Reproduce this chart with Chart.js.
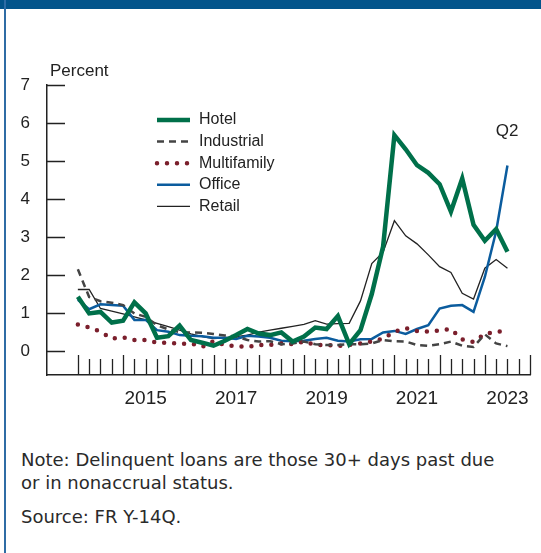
<!DOCTYPE html>
<html>
<head>
<meta charset="utf-8">
<script src="https://cdn.jsdelivr.net/npm/chart.js@4.4.1/dist/chart.umd.min.js"></script>
<style>
  body { margin: 0; background: #fff; width: 541px; height: 553px; overflow: hidden; position: relative; }
  #band { position: absolute; left: 0; top: 0; width: 541px; height: 9px; background: #03548b; }
  #edge { position: absolute; left: 4px; top: 0; width: 2px; height: 553px; background: #2f6ca5; }
  #wrap { position: absolute; left: 0; top: 0; width: 541px; height: 430px; }
  #note { position: absolute; left: 21px; top: 448px; font: 18px "DejaVu Sans", sans-serif; line-height: 23px; color: #2a2a2a; }
  #note p { margin: 0; }
  #note p.src { margin-top: 11px; }
</style>
</head>
<body>
<div id="band"></div>
<div id="edge"></div>
<div id="wrap"><canvas id="chart" width="541" height="430"></canvas></div>
<div id="note">
  <p>Note: Delinquent loans are those 30+ days past due<br>or in nonaccrual status.</p>
  <p class="src">Source: FR Y-14Q.</p>
</div>
<script>
const quarters = [
  '2013Q4',
  '2014Q1', '2014Q2', '2014Q3', '2014Q4',
  '2015Q1', '2015Q2', '2015Q3', '2015Q4',
  '2016Q1', '2016Q2', '2016Q3', '2016Q4',
  '2017Q1', '2017Q2', '2017Q3', '2017Q4',
  '2018Q1', '2018Q2', '2018Q3', '2018Q4',
  '2019Q1', '2019Q2', '2019Q3', '2019Q4',
  '2020Q1', '2020Q2', '2020Q3', '2020Q4',
  '2021Q1', '2021Q2', '2021Q3', '2021Q4',
  '2022Q1', '2022Q2', '2022Q3', '2022Q4',
  '2023Q1', '2023Q2'
];
const yearLabels = ['2015', '2017', '2019', '2021', '2023'];
const yTicks = [0, 1, 2, 3, 4, 5, 6, 7];

const hotel = [1.43, 0.99, 1.03, 0.75, 0.80, 1.28, 0.99, 0.35, 0.39, 0.67, 0.29, 0.22, 0.14, 0.27, 0.42, 0.58, 0.46, 0.42, 0.49, 0.25,
  0.38, 0.62, 0.58, 0.92, 0.18, 0.55, 1.50, 2.75, 5.68, 5.31, 4.89, 4.69, 4.39, 3.67, 4.54, 3.32, 2.90, 3.21, 2.61];
const industrial = [2.15, 1.42, 1.31, 1.27, 1.21, 0.99, 0.90, 0.68, 0.57, 0.50, 0.49, 0.48, 0.45, 0.41, 0.38, 0.29, 0.25, 0.26, 0.18, 0.20,
  0.25, 0.18, 0.16, 0.16, 0.18, 0.18, 0.20, 0.29, 0.26, 0.25, 0.16, 0.14, 0.18, 0.25, 0.14, 0.11, 0.44, 0.20, 0.13];
const multifamily = [0.70, 0.62, 0.51, 0.33, 0.36, 0.29, 0.29, 0.22, 0.22, 0.19, 0.20, 0.11, 0.26, 0.16, 0.13, 0.11, 0.16, 0.16, 0.20, 0.18,
  0.25, 0.16, 0.16, 0.13, 0.16, 0.20, 0.25, 0.33, 0.51, 0.60, 0.53, 0.51, 0.54, 0.58, 0.31, 0.24, 0.45, 0.50, 0.55];
const office = [1.35, 1.10, 1.23, 1.21, 1.19, 0.82, 0.82, 0.55, 0.51, 0.42, 0.40, 0.39, 0.35, 0.35, 0.32, 0.40, 0.38, 0.35, 0.27, 0.26,
  0.27, 0.32, 0.35, 0.27, 0.25, 0.31, 0.32, 0.49, 0.53, 0.45, 0.58, 0.68, 1.12, 1.19, 1.21, 1.03, 1.95, 3.15, 4.88];
const retail = [1.62, 1.62, 1.12, 1.05, 0.98, 0.90, 0.82, 0.73, 0.64, 0.55, 0.45, 0.38, 0.33, 0.35, 0.38, 0.42, 0.50, 0.55, 0.60, 0.65,
  0.70, 0.80, 0.71, 0.72, 0.73, 1.32, 2.30, 2.60, 3.43, 3.03, 2.82, 2.53, 2.22, 2.07, 1.52, 1.37, 2.18, 2.41, 2.18];

const pts = arr => arr.map((v, i) => ({ x: i, y: v }));
const ink = '#222';

// inward tick marks, axis texts and the legend
const decor = {
  id: 'decor',
  beforeDatasetsDraw(chart) {
    const { ctx, scales: { x, y } } = chart;
    ctx.save();
    ctx.strokeStyle = ink;
    ctx.lineWidth = 1.3;
    ctx.beginPath();
    for (let i = 0; i <= 40; i++) {
      const px = Math.round(x.getPixelForValue(i)) + 0.5;
      const len = i % 4 === 0 ? 20 : 16;
      ctx.moveTo(px, y.bottom);
      ctx.lineTo(px, y.bottom - len);
    }
    yTicks.forEach(v => {
      const py = Math.round(y.getPixelForValue(v)) + 0.5;
      ctx.moveTo(x.left, py);
      ctx.lineTo(x.left + 18, py);
    });
    ctx.stroke();

    ctx.fillStyle = ink;
    ctx.textBaseline = 'middle';
    ctx.font = '17px "Liberation Sans", Arial, sans-serif';
    ctx.textAlign = 'left';
    ctx.fillText('Percent', 50, 71);
    ctx.textAlign = 'center';
    ctx.fillText('Q2', 507, 131);
    ctx.restore();
  },
  afterDatasetsDraw(chart) {
    const { ctx } = chart;
    ctx.save();
    chart.data.datasets.forEach((ds, k) => {
      const yy = 120 + k * 21.6;
      ctx.beginPath();
      ctx.strokeStyle = ds.borderColor;
      ctx.lineWidth = ds.borderWidth;
      ctx.setLineDash(ds.borderDash || []);
      ctx.lineCap = ds.borderCapStyle || 'butt';
      ctx.moveTo(157, yy);
      ctx.lineTo(190, yy);
      ctx.stroke();
      ctx.setLineDash([]);
      ctx.fillStyle = ink;
      ctx.font = '16px "Liberation Sans", Arial, sans-serif';
      ctx.textBaseline = 'middle';
      ctx.textAlign = 'left';
      ctx.fillText(ds.label, 199, yy);
    });
    ctx.restore();
  }
};

new Chart(document.getElementById('chart'), {
  type: 'line',
  data: {
    datasets: [
      { label: 'Hotel', data: pts(hotel), borderColor: '#00704a', borderWidth: 4.5 },
      { label: 'Industrial', data: pts(industrial), borderColor: '#444', borderWidth: 2.5, borderDash: [7, 5] },
      { label: 'Multifamily', data: pts(multifamily), borderColor: '#7b1f2c', borderWidth: 4.5, borderDash: [0, 10], borderCapStyle: 'round' },
      { label: 'Office', data: pts(office), borderColor: '#0b5c9e', borderWidth: 2.5 },
      { label: 'Retail', data: pts(retail), borderColor: ink, borderWidth: 1.3 }
    ]
  },
  options: {
    responsive: false,
    animation: false,
    layout: { padding: { top: 85, right: 9, left: 0, bottom: 0 } },
    elements: { point: { radius: 0 }, line: { tension: 0 } },
    plugins: { legend: { display: false }, tooltip: { enabled: false } },
    scales: {
      x: {
        type: 'linear',
        min: -2.73,
        max: 40,
        grid: { display: false, drawTicks: false },
        border: { color: ink, width: 1.5 },
        afterBuildTicks: s => { s.ticks = yearLabels.map(yr => ({ value: quarters.indexOf(yr + 'Q2') })); },
        afterFit: s => { s.height = 55; },
        ticks: {
          autoSkip: false,
          maxRotation: 0,
          padding: 12,
          color: ink,
          font: { size: 19, family: '"Liberation Sans", Arial, sans-serif' },
          callback: v => quarters[v] ? quarters[v].slice(0, 4) : ''
        }
      },
      y: {
        min: -0.63,
        max: 7,
        grid: { display: false, drawTicks: false },
        border: { color: ink, width: 1.5 },
        afterBuildTicks: s => { s.ticks = yTicks.map(v => ({ value: v })); },
        afterFit: s => { s.width = 47; },
        ticks: {
          padding: 17,
          color: ink,
          font: { size: 17, family: '"Liberation Sans", Arial, sans-serif' }
        }
      }
    }
  },
  plugins: [decor]
});
</script>
</body>
</html>
